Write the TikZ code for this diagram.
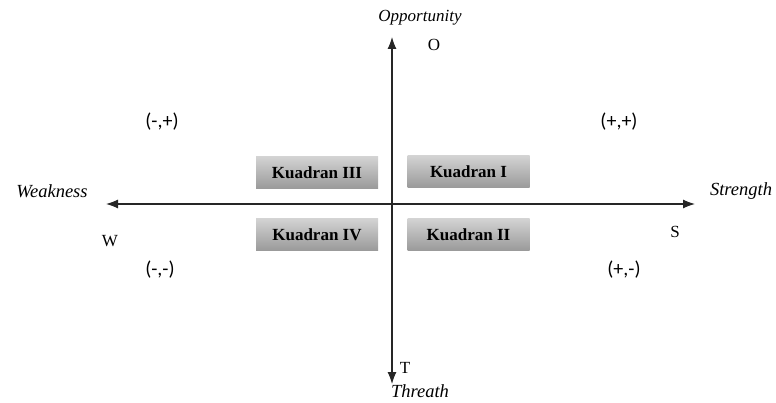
\documentclass[tikz,border=0pt]{standalone}
\usepackage{fontspec}
\setmainfont{Liberation Serif}
\newfontfamily\signfont{Carlito}
\usetikzlibrary{arrows.meta}
\begin{document}
\begin{tikzpicture}[x=1pt,y=-1pt,
  axis/.style={line width=1.1pt,draw=black!85,-{Latex[length=12pt,width=9pt]}},
  lbl/.style={font=\fontsize{17}{19}\selectfont},
  sign/.style={font=\fontsize{20}{22}\selectfont\signfont},
  ital/.style={font=\fontsize{18.5}{20}\selectfont\itshape},
  quad/.style={minimum width=122pt,minimum height=32pt,inner sep=0pt,
    top color=gray!35,middle color=gray!12,bottom color=gray!80,
    font=\fontsize{17}{19}\selectfont\bfseries}]
\useasboundingbox (0,0) rectangle (776,403);
\coordinate (center) at (392,204);
\coordinate (top) at (392,37);
\coordinate (bot) at (392,384);
\coordinate (left) at (106,204);
\coordinate (right) at (695,204);
\draw[axis] (center) -- (top);
\draw[axis] (center) -- (bot);
\draw[axis] (center) -- (left);
\draw[axis] (center) -- (right);
\node[quad] (k3) at (317,173) {Kuadran III};
\node[quad] (k1) at (468.5,172) {Kuadran I};
\node[quad] (k4) at (317,235) {Kuadran IV};
\node[quad] (k2) at (468.5,235) {Kuadran II};
\node[ital,font=\fontsize{17}{19}\selectfont\itshape] (opp) at (420,18) {Opportunity};
\node[lbl] (o) at (434,45) {O};
\node[sign] (pm) at (162,122) {(-,+)};
\node[sign] (pp) at (619,122) {(+,+)};
\node[ital] (weak) at (52,191) {Weakness};
\node[ital] (str) at (741,191) {Strength};
\node[lbl] (w) at (110,241) {W};
\node[lbl] (s) at (675,232) {S};
\node[sign] (mm) at (160,270) {(-,-)};
\node[sign] (pmm) at (624,270) {(+,-)};
\node[lbl] (t) at (405,368) {T};
\node[ital] (thr) at (420,391) {Threath};
\end{tikzpicture}
\end{document}
